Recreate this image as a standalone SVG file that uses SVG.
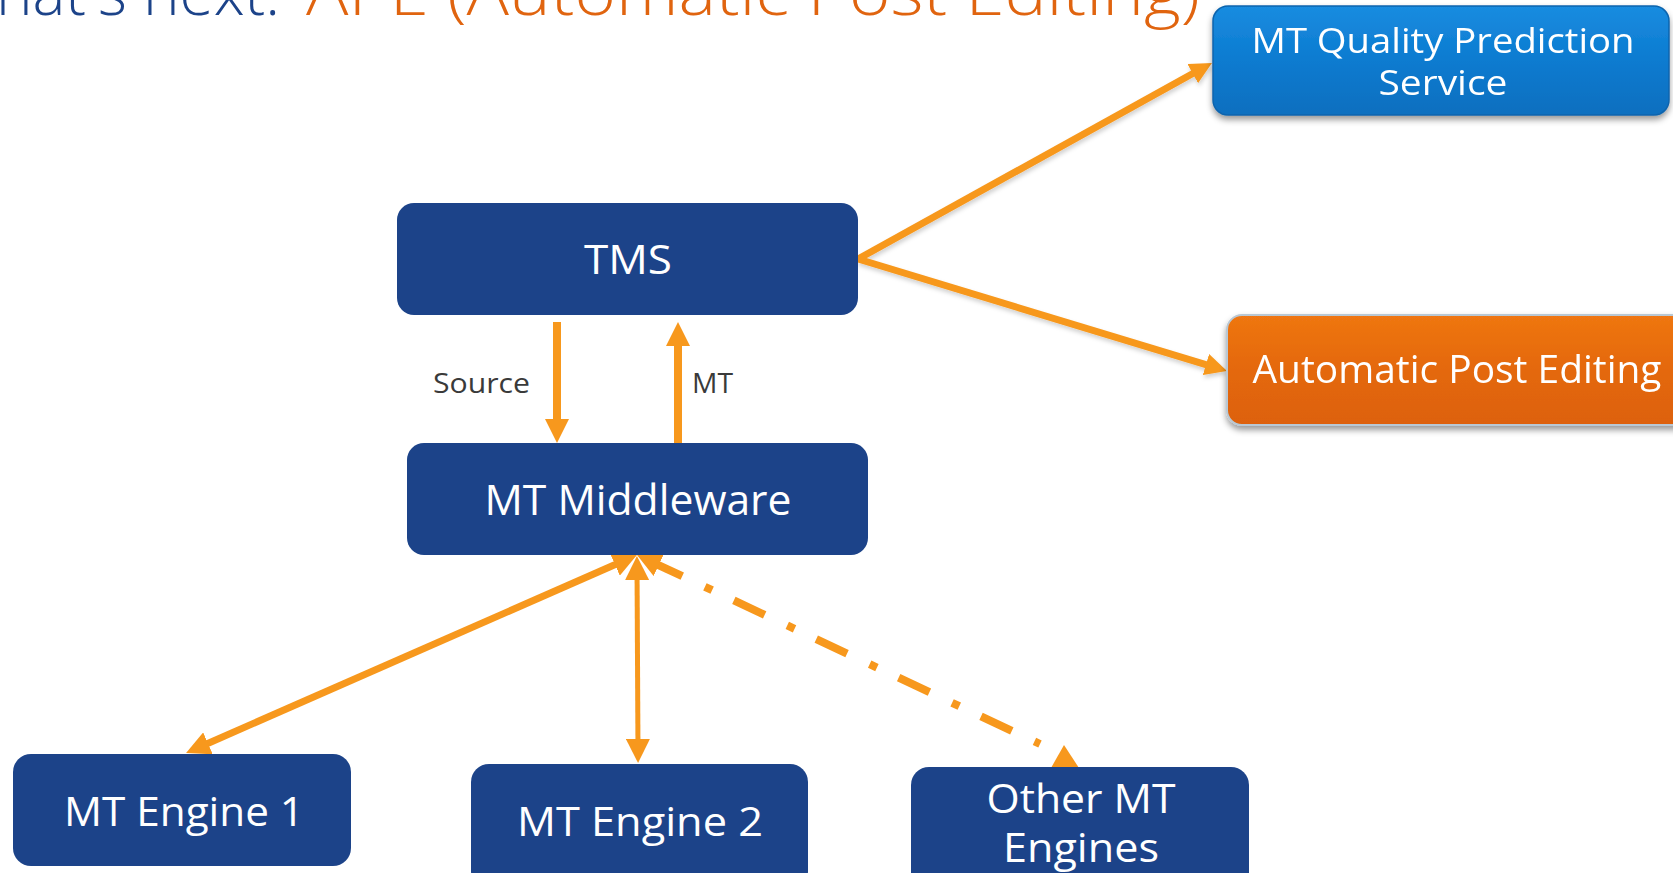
<svg xmlns="http://www.w3.org/2000/svg" width="1673" height="873" viewBox="0 0 1673 873">
  <style>
    .node { fill: #1c4389; }
    .label { font-family: "Open Sans", "Liberation Sans", sans-serif; fill: #ffffff; text-anchor: middle; }
    .note { font-family: "Open Sans", "Liberation Sans", sans-serif; fill: #3a3a3a; font-size: 27px; }
    .title { font-family: "Open Sans", "Liberation Sans", sans-serif; font-weight: 300; font-size: 62px; }
    .flow { fill: none; stroke: #f7981d; stroke-linecap: butt; }
  </style>
  <defs>
    <!-- arrowhead whose tip sits 10px past the end of the path -->
    <marker id="head" markerUnits="userSpaceOnUse" viewBox="0 0 24 24" markerWidth="24" markerHeight="24" refX="14" refY="12" orient="auto-start-reverse">
      <path d="M0,0 L24,12 L0,24 z" fill="#f7981d"/>
    </marker>
    <marker id="headSmall" markerUnits="userSpaceOnUse" viewBox="0 0 22 22" markerWidth="22" markerHeight="22" refX="12" refY="11" orient="auto-start-reverse">
      <path d="M0,0 L22,11 L0,22 z" fill="#f7981d"/>
    </marker>
    <!-- arrowhead whose tip sits exactly on the path end -->
    <marker id="headTip" markerUnits="userSpaceOnUse" viewBox="0 0 24 24" markerWidth="24" markerHeight="24" refX="24" refY="12" orient="auto-start-reverse">
      <path d="M0,0 L24,12 L0,24 z" fill="#f7981d"/>
    </marker>
    <linearGradient id="blueFill" x1="0" y1="0" x2="0" y2="1">
      <stop offset="0" stop-color="#1a8ce0"/>
      <stop offset="0.5" stop-color="#0b7bd0"/>
      <stop offset="1" stop-color="#0a6fbf"/>
    </linearGradient>
    <linearGradient id="orangeFill" x1="0" y1="0" x2="0" y2="1">
      <stop offset="0" stop-color="#ef7612"/>
      <stop offset="0.5" stop-color="#e4680a"/>
      <stop offset="1" stop-color="#dd6108"/>
    </linearGradient>
    <filter id="boxShadow" x="-10%" y="-20%" width="120%" height="150%">
      <feDropShadow dx="0" dy="4" stdDeviation="3" flood-color="#000000" flood-opacity="0.4"/>
    </filter>
    <filter id="lineShadow" x="-10%" y="-20%" width="120%" height="150%">
      <feDropShadow dx="1" dy="3" stdDeviation="2" flood-color="#000000" flood-opacity="0.18"/>
    </filter>
  </defs>

  <rect width="1673" height="873" fill="#ffffff"/>

  <!-- heading -->
  <g id="heading">
    <text class="title" x="280" y="15" fill="#1c4389" text-anchor="end">What's next:</text>
    <text class="title" x="306" y="15" fill="#e0640f" textLength="894" lengthAdjust="spacingAndGlyphs">APE (Automatic Post Editing)</text>
  </g>

  <!-- connectors -->
  <g id="connectors">
    <path class="flow" d="M557,322 L557,433" stroke-width="8" marker-end="url(#head)"/>
    <path class="flow" d="M678,443 L678,332" stroke-width="8" marker-end="url(#head)"/>
    <g filter="url(#lineShadow)">
      <path class="flow" d="M858,259 L1203.2,67.8" stroke-width="7" marker-end="url(#headSmall)"/>
      <path class="flow" d="M858,259 L1217.4,368.1" stroke-width="7" marker-end="url(#headSmall)"/>
    </g>
    <path class="flow" d="M627.8,559 L195.2,749" stroke-width="7" marker-start="url(#head)" marker-end="url(#head)"/>
    <path class="flow" d="M637,566 L638,753" stroke-width="5" marker-start="url(#head)" marker-end="url(#head)"/>
    <path class="flow" d="M637,555 L1040,744" stroke-width="8" stroke-dasharray="34 25 8 24" stroke-dashoffset="75" marker-start="url(#headTip)"/>
    <polygon points="1064,745 1051,768 1079,768" fill="#f7981d"/>
  </g>

  <!-- nodes -->
  <g id="tms">
    <rect class="node" x="397" y="203" width="461" height="112" rx="17"/>
    <text class="label" x="628" y="274" font-size="41" textLength="88" lengthAdjust="spacingAndGlyphs">TMS</text>
  </g>
  <g id="mt-middleware">
    <rect class="node" x="407" y="443" width="461" height="112" rx="17"/>
    <text class="label" x="638" y="515" font-size="42" textLength="307" lengthAdjust="spacingAndGlyphs">MT Middleware</text>
  </g>
  <g id="edge-labels">
    <text class="note" x="433" y="393" textLength="97" lengthAdjust="spacingAndGlyphs">Source</text>
    <text class="note" x="692" y="393" textLength="41" lengthAdjust="spacingAndGlyphs">MT</text>
  </g>
  <g id="mt-quality-prediction" filter="url(#boxShadow)">
    <rect x="1213" y="6" width="456" height="109" rx="15" fill="url(#blueFill)" stroke="#0a64ad" stroke-width="1.5"/>
    <text class="label" x="1443" y="53" font-size="35" textLength="383" lengthAdjust="spacingAndGlyphs">MT Quality Prediction</text>
    <text class="label" x="1443" y="95" font-size="35" textLength="129" lengthAdjust="spacingAndGlyphs">Service</text>
  </g>
  <g id="automatic-post-editing" filter="url(#boxShadow)">
    <rect x="1227" y="315" width="470" height="110" rx="15" fill="url(#orangeFill)" stroke="#b9c8d4" stroke-width="2"/>
    <text class="label" x="1457" y="383" font-size="38" textLength="409" lengthAdjust="spacingAndGlyphs">Automatic Post Editing</text>
  </g>
  <g id="mt-engine-1">
    <rect class="node" x="13" y="754" width="338" height="112" rx="18"/>
    <text class="label" x="184" y="826" font-size="40" textLength="240" lengthAdjust="spacingAndGlyphs">MT Engine 1</text>
  </g>
  <g id="mt-engine-2">
    <rect class="node" x="471" y="764" width="337" height="125" rx="18"/>
    <text class="label" x="640" y="836" font-size="40" textLength="246" lengthAdjust="spacingAndGlyphs">MT Engine 2</text>
  </g>
  <g id="other-mt-engines">
    <rect class="node" x="911" y="767" width="338" height="125" rx="18"/>
    <text class="label" x="1081" y="813" font-size="40" textLength="189" lengthAdjust="spacingAndGlyphs">Other MT</text>
    <text class="label" x="1081" y="862" font-size="40" textLength="156" lengthAdjust="spacingAndGlyphs">Engines</text>
  </g>
</svg>
